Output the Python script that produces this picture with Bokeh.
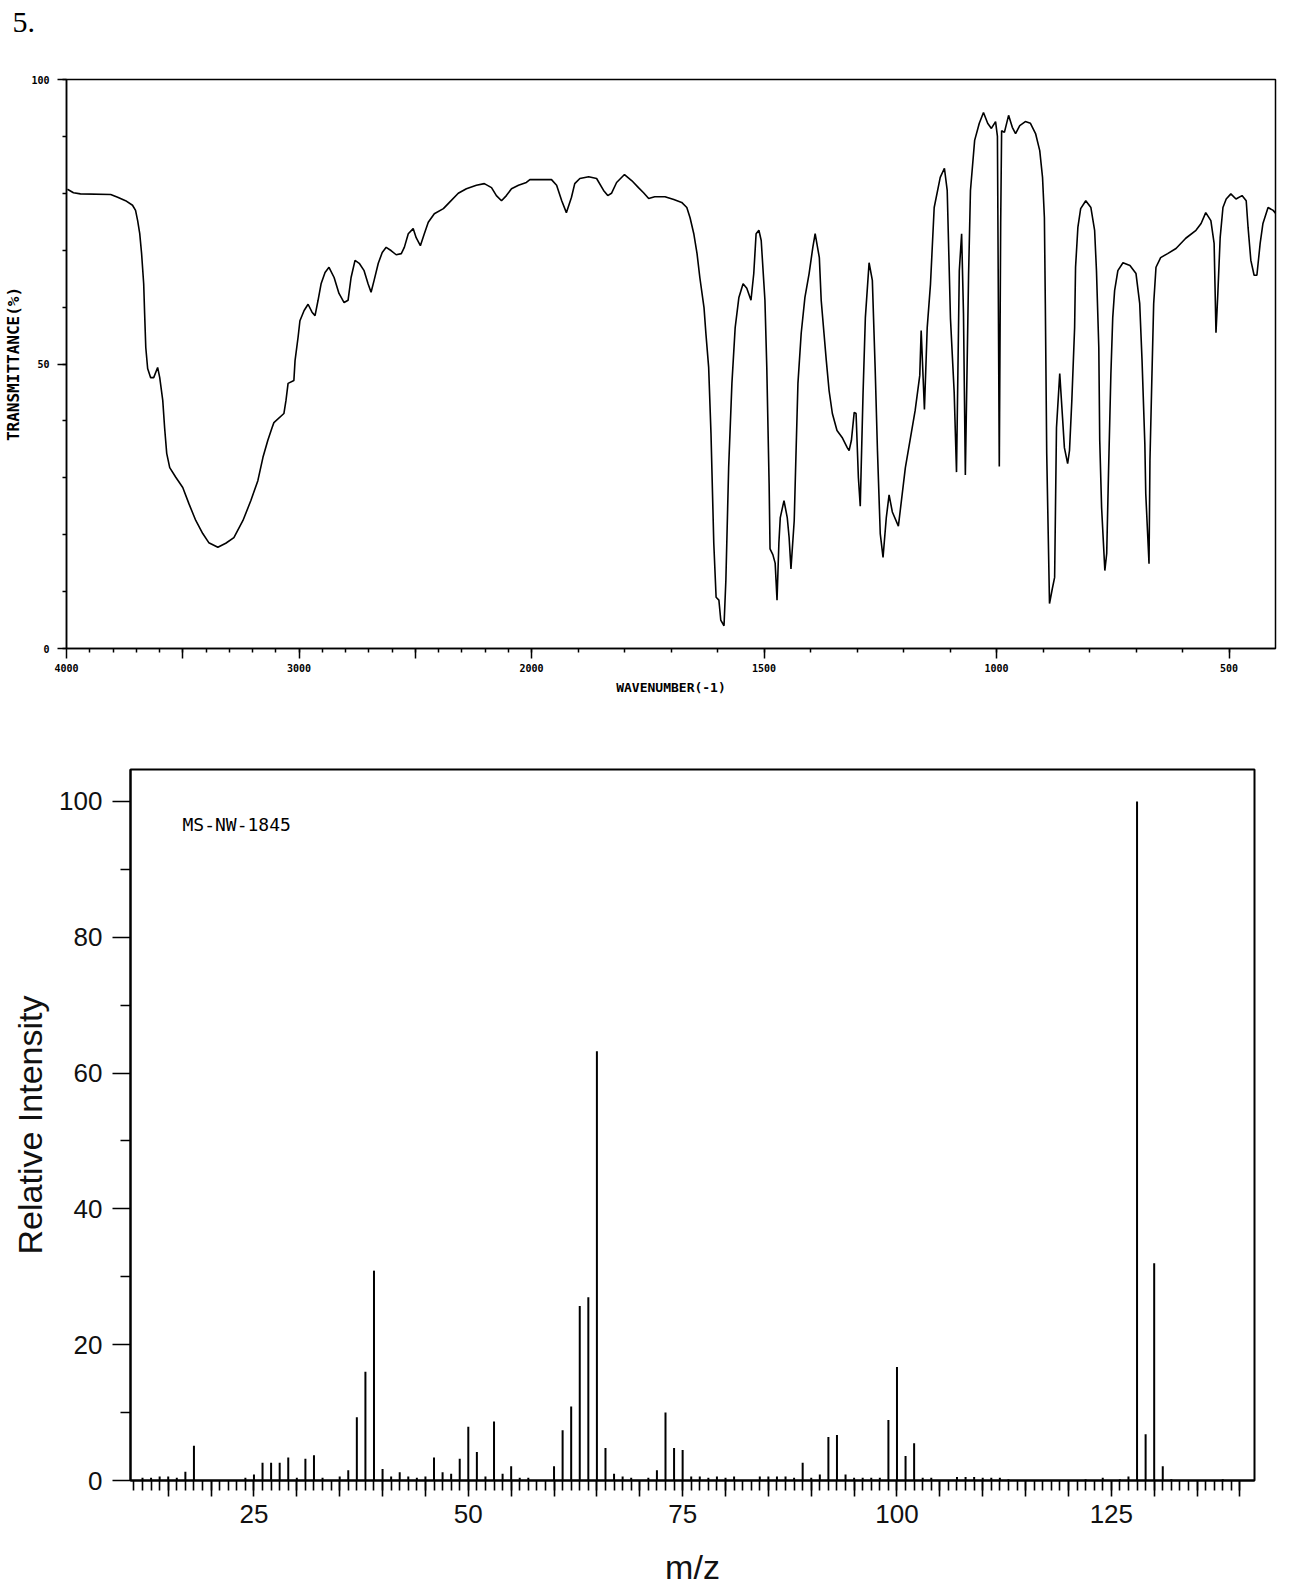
import numpy as np
from bokeh.plotting import figure
from bokeh.models import FixedTicker, Label, ColumnDataSource, Range1d
from bokeh.embed import file_html
from bokeh.resources import INLINE

# ---------------- IR spectrum data (wavenumber cm-1, %T) ----------------
ir_wavenumber = [
    3996, 3970, 3940, 3810, 3780, 3746, 3716, 3703, 3694, 3685, 3677, 3668, 3664, 3659, 3651,
    3638, 3625, 3608, 3599, 3586, 3578, 3569, 3556, 3530, 3500, 3474, 3444, 3414, 3388, 3349,
    3315, 3280, 3241, 3207, 3177, 3155, 3134, 3116, 3108, 3065, 3056, 3047, 3022, 3017, 3004,
    2996, 2978, 2961, 2944, 2931, 2918, 2905, 2888, 2871, 2849, 2828, 2806, 2789, 2776, 2759,
    2741, 2720, 2703, 2690, 2677, 2659, 2642, 2625, 2603, 2582, 2560, 2547, 2530, 2509, 2496,
    2478, 2461, 2444, 2418, 2379, 2353, 2315, 2280, 2237, 2203, 2172, 2151, 2129, 2108, 2086,
    2056, 2022, 2007, 1957, 1946, 1935, 1925, 1914, 1907, 1896, 1877, 1860, 1845, 1836, 1828,
    1817, 1800, 1784, 1770, 1759, 1748, 1735, 1713, 1694, 1677, 1666, 1659, 1651, 1644, 1638,
    1629, 1625, 1619, 1614, 1608, 1603, 1597, 1593, 1586, 1582, 1576, 1569, 1562, 1554, 1545,
    1537, 1528, 1522, 1517, 1511, 1506, 1498, 1494, 1489, 1487, 1481, 1476, 1472, 1468, 1465,
    1457, 1450, 1446, 1442, 1435, 1431, 1427, 1420, 1412, 1403, 1395, 1390, 1381, 1377, 1371,
    1366, 1360, 1353, 1343, 1332, 1321, 1317, 1312, 1306, 1302, 1297, 1293, 1291, 1287, 1282,
    1274, 1267, 1261, 1256, 1250, 1244, 1237, 1231, 1224, 1211, 1196, 1175, 1165, 1162, 1155,
    1149, 1142, 1134, 1121, 1112, 1106, 1099, 1091, 1086, 1080, 1075, 1071, 1067, 1060, 1056,
    1047, 1037, 1028, 1019, 1011, 1002, 998, 994, 991, 989, 983, 974, 966, 959, 950,
    938, 927, 916, 907, 901, 897, 895, 892, 886, 880, 875, 871, 864, 858, 854,
    847, 843, 838, 832, 830, 825, 819, 808, 797, 789, 785, 780, 778, 774, 767,
    763, 759, 754, 750, 746, 739, 728, 713, 700, 692, 687, 681, 679, 672, 670,
    666, 662, 657, 647, 632, 614, 593, 571, 560, 550, 539, 532, 530, 528, 524,
    519, 513, 506, 496, 485, 472, 463, 459, 453, 446, 440, 433, 427, 416, 405,
    400,
]
ir_transmittance = [
    80.7, 80.1, 79.9, 79.8, 79.3, 78.7, 77.9, 77.0, 75.2, 72.9, 69.4, 64.1, 58.9, 52.9, 49.2,
    47.6, 47.6, 49.4, 47.6, 43.6, 38.8, 34.3, 31.8, 30.1, 28.3, 25.5, 22.5, 20.2, 18.6, 17.8,
    18.5, 19.5, 22.5, 26.0, 29.5, 33.6, 36.6, 38.8, 39.7, 41.3, 43.6, 46.6, 47.1, 50.6, 54.7,
    57.6, 59.4, 60.5, 59.1, 58.5, 61.2, 64.1, 66.1, 67.0, 65.2, 62.4, 60.8, 61.2, 65.2, 68.2,
    67.7, 66.4, 64.1, 62.6, 64.7, 67.7, 69.6, 70.5, 69.9, 69.2, 69.4, 70.5, 72.9, 73.8, 72.2,
    70.8, 72.9, 74.9, 76.4, 77.3, 78.4, 80.0, 80.8, 81.4, 81.7, 81.0, 79.6, 78.7, 79.6, 80.8,
    81.4, 81.9, 82.4, 82.4, 81.4, 78.7, 76.6, 79.3, 81.7, 82.6, 82.9, 82.6, 80.5, 79.6, 80.0,
    81.9, 83.3, 82.2, 81.0, 80.1, 79.1, 79.4, 79.4, 78.9, 78.4, 77.5, 75.7, 72.9, 69.4, 65.2,
    59.9, 55.4, 49.4, 37.8, 18.5, 9.0, 8.5, 5.0, 4.0, 12.0, 31.8, 46.6, 56.4, 61.7, 64.1,
    63.3, 61.2, 65.9, 72.9, 73.5, 71.7, 61.2, 49.4, 29.0, 17.5, 16.5, 15.0, 8.5, 18.5, 23.0,
    26.0, 23.0, 19.5, 14.0, 22.5, 34.8, 46.6, 55.4, 61.7, 65.9, 70.5, 72.9, 68.7, 61.2, 55.4,
    50.6, 45.3, 41.3, 38.3, 37.1, 35.3, 34.8, 36.6, 41.5, 41.3, 30.0, 25.0, 31.8, 44.8, 58.2,
    67.8, 64.7, 49.4, 34.8, 20.2, 16.0, 23.0, 27.0, 24.0, 21.5, 31.8, 41.8, 48.0, 55.9, 42.0,
    56.4, 64.0, 77.5, 82.8, 84.4, 80.5, 58.0, 45.0, 31.0, 66.4, 72.9, 58.9, 30.5, 65.9, 80.5,
    89.3, 92.3, 94.2, 92.3, 91.4, 92.6, 90.0, 32.0, 74.7, 91.0, 90.7, 93.7, 91.6, 90.5, 91.9,
    92.6, 92.3, 90.5, 87.5, 82.8, 75.7, 60.6, 34.3, 7.9, 10.5, 12.5, 38.8, 48.3, 40.6, 35.3,
    32.5, 34.8, 43.6, 56.4, 67.0, 74.0, 77.3, 78.7, 77.5, 73.5, 66.4, 52.9, 36.6, 24.8, 13.7,
    16.7, 31.3, 48.3, 58.2, 62.9, 66.4, 67.8, 67.3, 65.9, 60.6, 50.6, 36.0, 27.2, 14.9, 33.0,
    47.1, 60.6, 67.0, 68.7, 69.4, 70.3, 72.1, 73.5, 74.7, 76.6, 75.2, 71.2, 63.4, 55.5, 62.4,
    72.2, 77.5, 79.0, 79.9, 79.0, 79.6, 78.7, 74.0, 68.2, 65.6, 65.6, 71.2, 74.7, 77.5, 77.0,
    76.5,
]
ir_major_wn = [4000, 3500, 3000, 2500, 2000, 1500, 1000, 500]
ir_major_labels = ["4000", "", "3000", "", "2000", "1500", "1000", "500"]
ir_minor_wn = list(range(3900, 499, -100))
ir_y_major = [0, 50, 100]
ir_y_minor = list(range(0, 101, 10))

# ---------------- Mass spectrum data ----------------
ms_mz = [12, 13, 14, 15, 16, 17, 18, 24, 25, 26, 27, 28, 29, 30, 31, 32, 33, 35, 36, 37,
         38, 39, 40, 41, 42, 43, 44, 45, 46, 47, 48, 49, 50, 51, 52, 53, 54, 55, 56, 57,
         60, 61, 62, 63, 64, 65, 66, 67, 68, 69, 71, 72, 73, 74, 75, 76, 77, 78, 79, 80,
         81, 84, 85, 86, 87, 88, 89, 90, 91, 92, 93, 94, 95, 96, 97, 98, 99, 100, 101, 102,
         103, 104, 107, 108, 109, 110, 111, 112, 113, 122, 124, 126, 127, 128, 129, 130, 131, 132, 138]
ms_intensity = [0.4, 0.4, 0.6, 0.6, 0.4, 1.3, 5.1, 0.4, 0.9, 2.6, 2.6, 2.6, 3.4, 0.4, 3.2, 3.7, 0.4, 0.6, 1.5, 9.3,
                16.0, 30.9, 1.7, 0.6, 1.2, 0.6, 0.4, 0.6, 3.4, 1.2, 1.0, 3.2, 7.9, 4.2, 0.6, 8.7, 1.0, 2.1, 0.4, 0.4,
                2.1, 7.4, 10.9, 25.7, 27.0, 63.2, 4.8, 1.0, 0.6, 0.4, 0.4, 1.5, 10.0, 4.8, 4.5, 0.6, 0.6, 0.4, 0.6, 0.4,
                0.6, 0.6, 0.6, 0.6, 0.6, 0.4, 2.6, 0.4, 0.9, 6.4, 6.7, 0.9, 0.4, 0.4, 0.4, 0.4, 8.9, 16.7, 3.6, 5.5,
                0.4, 0.4, 0.5, 0.5, 0.5, 0.4, 0.4, 0.4, 0.2, 0.2, 0.4, 0.2, 0.6, 100.0, 6.8, 32.0, 2.1, 0.2, 0.2]
ms_major_ticks = list(range(15, 141, 5))
ms_labeled_ticks = [25, 50, 75, 100, 125]
ms_minor_ticks = list(range(11, 141))
ms_y_major = [0, 20, 40, 60, 80, 100]
ms_y_minor = [10, 30, 50, 70, 90]


def wn_to_x(w):
    """Two-part IR abscissa: 4000-2000 at half the scale of 2000-400."""
    w = np.asarray(w, dtype=float)
    return np.where(w >= 2000, (4000.0 - w) / 1000.0, 2.0 + (2000.0 - w) / 500.0)


PIX = "DejaVu Sans Mono"

# ---------------- IR figure ----------------
p1 = figure(width=1290, height=720, x_range=Range1d(0, wn_to_x(400).item()),
            y_range=Range1d(0, 100), output_backend="svg", toolbar_location=None,
            min_border_left=66, min_border_right=15, min_border_top=79, min_border_bottom=72)
p1.grid.visible = False
p1.outline_line_color = "black"
p1.outline_line_width = 1.5
p1.background_fill_color = "white"
p1.border_fill_color = "white"

p1.title.text = "5.\n"
p1.title.text_font = "Liberation Serif"
p1.title.text_font_size = "30px"
p1.title.text_font_style = "normal"
p1.title.text_line_height = 1.25
p1.title.text_color = "black"
p1.title.align = "left"
p1.title.offset = -54
p1.title.standoff = 0

ir_src = ColumnDataSource(dict(x=wn_to_x(ir_wavenumber), t=ir_transmittance))
p1.line("x", "t", source=ir_src, line_color="black", line_width=1.6)

major_pos = [float(v) for v in wn_to_x(ir_major_wn)]
p1.xaxis.ticker = FixedTicker(ticks=major_pos, minor_ticks=[float(v) for v in wn_to_x(ir_minor_wn)])
p1.xaxis.major_label_overrides = {pos: lab for pos, lab in zip(major_pos, ir_major_labels)}
p1.yaxis.ticker = FixedTicker(ticks=ir_y_major, minor_ticks=ir_y_minor)

for ax in (p1.xaxis, p1.yaxis):
    ax.axis_line_width = 1.5
    ax.axis_line_color = "black"
    ax.major_tick_line_width = 1.5
    ax.minor_tick_line_width = 1.5
    ax.major_tick_line_color = "black"
    ax.minor_tick_line_color = "black"
    ax.major_tick_in = 0
    ax.minor_tick_in = 0
    ax.minor_tick_out = 4
    ax.major_label_text_font = PIX
    ax.major_label_text_font_style = "bold"
    ax.major_label_text_font_size = "10px"
    ax.major_label_text_color = "black"
    ax.axis_label_text_font = PIX
    ax.axis_label_text_font_style = "bold"
    ax.axis_label_text_color = "black"

p1.xaxis.major_tick_out = 10
p1.xaxis.major_label_standoff = 5
p1.xaxis.axis_label = "WAVENUMBER(-1)"
p1.xaxis.axis_label_text_font_size = "13px"
p1.xaxis.axis_label_standoff = 5
p1.yaxis.major_tick_out = 9
p1.yaxis.major_label_standoff = 8
p1.yaxis.axis_label = "TRANSMITTANCE(%)"
p1.yaxis.axis_label_text_font_size = "16px"
p1.yaxis.axis_label_standoff = 5

# ---------------- MS figure ----------------
p2 = figure(width=1290, height=872, x_range=Range1d(10.6, 141.7), y_range=Range1d(0, 104.7),
            output_backend="svg", toolbar_location=None,
            min_border_left=130, min_border_right=36, min_border_top=49, min_border_bottom=112)
p2.grid.visible = False
p2.outline_line_color = "black"
p2.outline_line_width = 2
ms_src = ColumnDataSource(dict(mz=ms_mz, inten=ms_intensity))
p2.segment(x0="mz", y0=0, x1="mz", y1="inten", source=ms_src, line_color="black", line_width=2)

p2.xaxis.ticker = FixedTicker(ticks=ms_major_ticks, minor_ticks=ms_minor_ticks)
p2.xaxis.major_label_overrides = {t: (str(t) if t in ms_labeled_ticks else "") for t in ms_major_ticks}
p2.yaxis.ticker = FixedTicker(ticks=ms_y_major, minor_ticks=ms_y_minor)

SANS = "Liberation Sans"
for ax in (p2.xaxis, p2.yaxis):
    ax.axis_line_width = 2
    ax.axis_line_color = "black"
    ax.major_tick_line_width = 1.6
    ax.minor_tick_line_width = 1.6
    ax.major_tick_line_color = "black"
    ax.minor_tick_line_color = "black"
    ax.major_tick_in = 0
    ax.minor_tick_in = 0
    ax.minor_tick_out = 10
    ax.major_label_text_font = SANS
    ax.major_label_text_font_size = "26px"
    ax.major_label_text_color = "#111111"
    ax.axis_label_text_font = SANS
    ax.axis_label_text_font_style = "normal"
    ax.axis_label_text_font_size = "34px"
    ax.axis_label_text_color = "#111111"

p2.xaxis.major_tick_out = 16
p2.xaxis.major_label_standoff = 8
p2.xaxis.axis_label = "m/z"
p2.xaxis.axis_label_standoff = 22
p2.yaxis.major_tick_out = 18
p2.yaxis.major_label_standoff = 10
p2.yaxis.axis_label = "Relative Intensity"
p2.yaxis.axis_label_standoff = 7

p2.add_layout(Label(x=16.66, y=96.6, text="MS-NW-1845", text_font=PIX,
                    text_font_size="18px", text_color="black", text_baseline="middle"))

open("out.html", "w").write(file_html([p1, p2], INLINE))
